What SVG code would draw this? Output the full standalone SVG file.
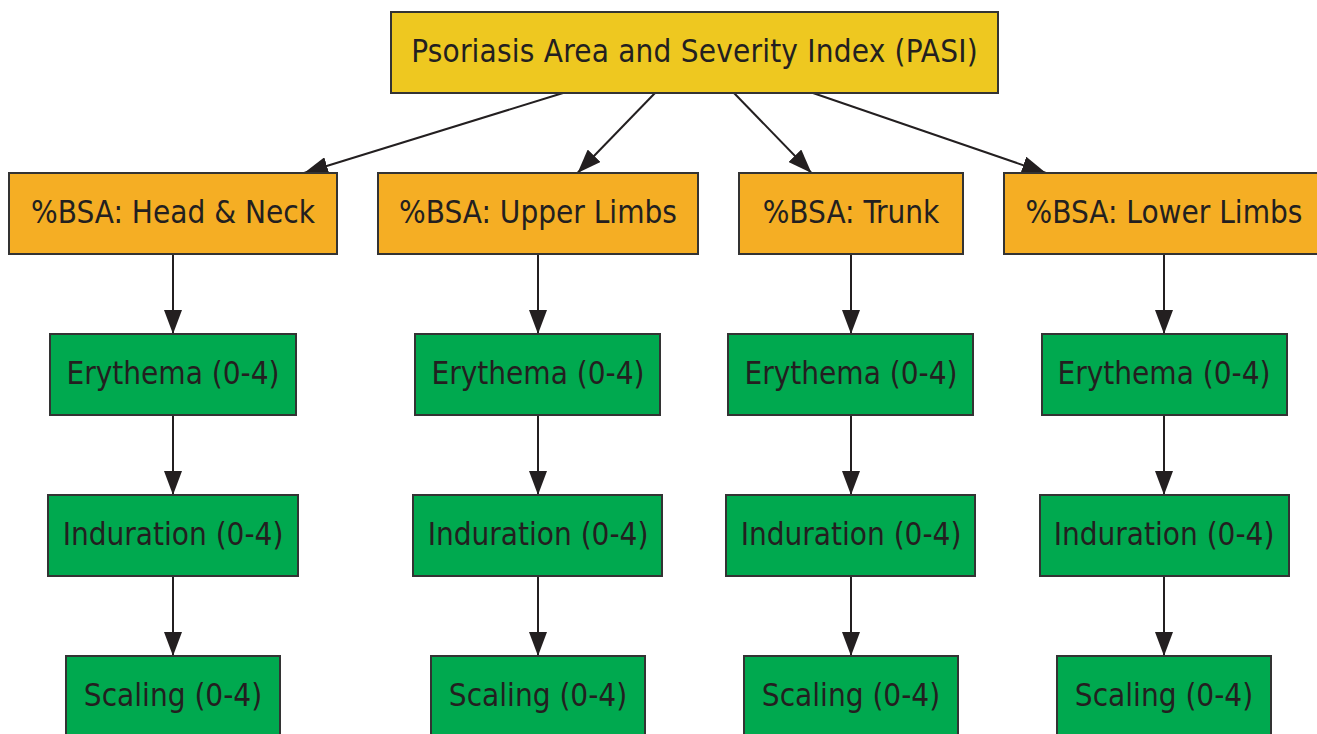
<svg xmlns="http://www.w3.org/2000/svg" width="1317" height="734" viewBox="0 0 1317 734">
<defs>
<marker id="ah" markerWidth="24" markerHeight="18" refX="24" refY="9" orient="auto" markerUnits="userSpaceOnUse">
<path d="M0,0 L24,9 L0,18 Z" fill="#231f20"/>
</marker>
<style>
.box{stroke:#333;stroke-width:2}
.top{fill:#EEC820}
.bsa{fill:#F5AE24}
.grn{fill:#00A94F}
text{font-family:"DejaVu Sans Condensed","DejaVu Sans",sans-serif;font-size:31.2px;fill:#231f20;text-anchor:middle}
.wide{letter-spacing:0.2px}
.e{stroke:#231f20;stroke-width:2;fill:none;marker-end:url(#ah)}
</style>
</defs>
<rect width="1317" height="734" fill="#fff"/>
<g id="connectors">
<line class="e" x1="563" y1="93" x2="304" y2="173"/>
<line class="e" x1="655" y1="93" x2="577.5" y2="173"/>
<line class="e" x1="734" y1="93" x2="811.5" y2="173"/>
<line class="e" x1="813" y1="93" x2="1046" y2="173"/>
<line class="e" x1="173" y1="254" x2="173" y2="334"/>
<line class="e" x1="538" y1="254" x2="538" y2="334"/>
<line class="e" x1="851" y1="254" x2="851" y2="334"/>
<line class="e" x1="1164" y1="254" x2="1164" y2="334"/>
<line class="e" x1="173" y1="415" x2="173" y2="495"/>
<line class="e" x1="538" y1="415" x2="538" y2="495"/>
<line class="e" x1="851" y1="415" x2="851" y2="495"/>
<line class="e" x1="1164" y1="415" x2="1164" y2="495"/>
<line class="e" x1="173" y1="576" x2="173" y2="656"/>
<line class="e" x1="538" y1="576" x2="538" y2="656"/>
<line class="e" x1="851" y1="576" x2="851" y2="656"/>
<line class="e" x1="1164" y1="576" x2="1164" y2="656"/>
</g>
<g id="pasi"><rect class="box top" x="391" y="12" width="607" height="81"/><text class="wide" x="694.5" y="62">Psoriasis Area and Severity Index (PASI)</text></g>
<g id="bsa_head"><rect class="box bsa" x="9" y="173" width="328" height="81"/><text x="173" y="223">%BSA: Head &amp; Neck</text></g>
<g id="bsa_upper"><rect class="box bsa" x="378" y="173" width="320" height="81"/><text x="538" y="223">%BSA: Upper Limbs</text></g>
<g id="bsa_trunk"><rect class="box bsa" x="739" y="173" width="224" height="81"/><text x="851" y="223">%BSA: Trunk</text></g>
<g id="bsa_lower"><rect class="box bsa" x="1004" y="173" width="320" height="81"/><text x="1164" y="223">%BSA: Lower Limbs</text></g>
<g id="ery_head"><rect class="box grn" x="50" y="334" width="246" height="81"/><text x="173" y="384">Erythema (0-4)</text></g>
<g id="ery_upper"><rect class="box grn" x="415" y="334" width="245" height="81"/><text x="538" y="384">Erythema (0-4)</text></g>
<g id="ery_trunk"><rect class="box grn" x="728" y="334" width="245" height="81"/><text x="851" y="384">Erythema (0-4)</text></g>
<g id="ery_lower"><rect class="box grn" x="1042" y="334" width="245" height="81"/><text x="1164" y="384">Erythema (0-4)</text></g>
<g id="ind_head"><rect class="box grn" x="48" y="495" width="250" height="81"/><text x="173" y="545">Induration (0-4)</text></g>
<g id="ind_upper"><rect class="box grn" x="413" y="495" width="249" height="81"/><text x="538" y="545">Induration (0-4)</text></g>
<g id="ind_trunk"><rect class="box grn" x="726" y="495" width="249" height="81"/><text x="851" y="545">Induration (0-4)</text></g>
<g id="ind_lower"><rect class="box grn" x="1040" y="495" width="249" height="81"/><text x="1164" y="545">Induration (0-4)</text></g>
<g id="sca_head"><rect class="box grn" x="66" y="656" width="214" height="81"/><text x="173" y="706">Scaling (0-4)</text></g>
<g id="sca_upper"><rect class="box grn" x="431" y="656" width="214" height="81"/><text x="538" y="706">Scaling (0-4)</text></g>
<g id="sca_trunk"><rect class="box grn" x="744" y="656" width="214" height="81"/><text x="851" y="706">Scaling (0-4)</text></g>
<g id="sca_lower"><rect class="box grn" x="1057" y="656" width="214" height="81"/><text x="1164" y="706">Scaling (0-4)</text></g>
</svg>
